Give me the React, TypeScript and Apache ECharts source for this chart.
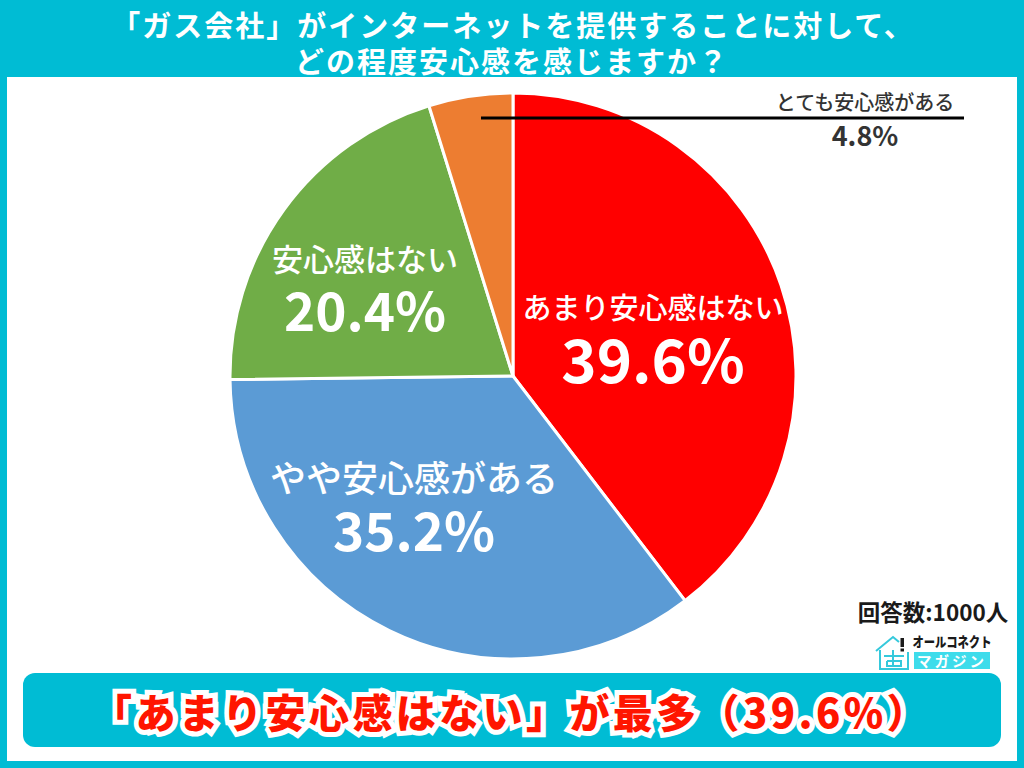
import React, { useEffect, useRef } from "react";
import * as echarts from "echarts";

const categories = ["あまり安心感はない", "やや安心感がある", "安心感はない", "とても安心感がある"];
const values = [39.6, 35.2, 20.4, 4.8];
const sliceColors = ["#FF0000", "#5B9BD5", "#70AD47", "#ED7D31"];
const titleLines = ["「ガス会社」がインターネットを提供することに対して、", "どの程度安心感を感じますか？"];
const sampleNote = "回答数:1000人";
const logoTop = "オールコネクト";
const logoBottom = "マガジン";
const banner = "「あまり安心感はない」が最多（39.6%）";

const TEAL = "#00BCD4";
const FONT = '"Noto Sans CJK JP", "Noto Sans", sans-serif';
const labelPos = [
  { x: 653, y: 336 },
  { x: 414, y: 502 },
  { x: 365, y: 284 },
  { x: 865, y: 118 },
];
const labelFont = [
  { n: 29, v: 60, c: "#fff", nh: 40, vh: 60 },
  { n: 36, v: 53, c: "#fff", nh: 51, vh: 53 },
  { n: 31, v: 53, c: "#fff", nh: 47, vh: 53 },
  { n: 20, v: 27, c: "#333", nh: 33, vh: 33 },
];

export default function App() {
  const ref = useRef<HTMLDivElement>(null);
  useEffect(() => {
    document.body.style.margin = "0";
    const chart = echarts.init(ref.current!, undefined, { renderer: "svg" });
    const iconLine = { stroke: "#35C9DC", lineWidth: 2, fill: "none" };
    chart.setOption({
      animation: false,
      backgroundColor: TEAL,
      graphic: [
        { type: "rect", z: 0, shape: { x: 7, y: 77, width: 1010, height: 684 }, style: { fill: "#FFFFFF" } },
        { type: "text", x: 513, y: 24, z: 10, style: { text: titleLines[0], fill: "#fff", font: `bold 29px ${FONT}`, lineHeight: 30, align: "center", verticalAlign: "middle" } },
        { type: "text", x: 512, y: 60, z: 10, style: { text: titleLines[1], fill: "#fff", font: `bold 29px ${FONT}`, lineHeight: 30, align: "center", verticalAlign: "middle" } },
        { type: "line", z: 20, shape: { x1: 481, y1: 118, x2: 964, y2: 118 }, style: { stroke: "#000", lineWidth: 3 } },
        { type: "text", x: 933, y: 611, z: 10, style: { text: sampleNote, fill: "#1a1a1a", font: `bold 22.5px ${FONT}`, align: "center", verticalAlign: "middle" } },
        // logo
        { type: "polyline", z: 10, shape: { points: [[876, 651], [893, 637], [899, 642]] }, style: iconLine },
        { type: "polyline", z: 10, shape: { points: [[880, 650], [880, 669], [908, 669], [908, 652]] }, style: iconLine },
        { type: "polyline", z: 10, shape: { points: [[887, 661], [887, 666], [901, 666], [901, 661], [887, 661]] }, style: iconLine },
        { type: "line", z: 10, shape: { x1: 884, y1: 656, x2: 904, y2: 656 }, style: iconLine },
        { type: "line", z: 10, shape: { x1: 893, y1: 650, x2: 893, y2: 666 }, style: iconLine },
        { type: "rect", z: 10, shape: { x: 900.5, y: 638, width: 3.5, height: 9 }, style: { fill: "#1a1a1a" } },
        { type: "rect", z: 10, shape: { x: 900.5, y: 648.5, width: 3.5, height: 3 }, style: { fill: "#1a1a1a" } },
        { type: "text", x: 952, y: 642, z: 10, scaleX: 0.84, style: { text: logoTop, fill: "#1a1a1a", font: `900 13.5px ${FONT}`, align: "center", verticalAlign: "middle" } },
        { type: "rect", z: 10, shape: { x: 914, y: 652, width: 76, height: 17 }, style: { fill: "#3EDCEB" } },
        { type: "text", x: 952, y: 660, z: 11, style: { text: logoBottom, fill: "#fff", font: `bold 14.5px ${FONT}`, align: "center", verticalAlign: "middle" } },
        // banner
        { type: "rect", z: 10, shape: { x: 23, y: 673, width: 978, height: 74, r: 12 }, style: { fill: TEAL } },
        { type: "text", x: 511, y: 711, z: 11, style: { text: banner, fill: "#FF1500", font: `900 40px ${FONT}`, align: "center", verticalAlign: "middle", stroke: "#fff", lineWidth: 10 } },
      ],
      series: [
        {
          type: "pie",
          center: [513, 376],
          radius: [0, 283],
          startAngle: 90,
          clockwise: true,
          z: 5,
          data: categories.map((name, i) => ({
            name,
            value: values[i],
            itemStyle: { color: sliceColors[i], borderColor: "#fff", borderWidth: 3 },
            label: {
              rich: {
                n: { fontFamily: FONT, fontWeight: 500, fontSize: labelFont[i].n, color: labelFont[i].c, lineHeight: labelFont[i].nh, align: "center" },
                v: { fontFamily: FONT, fontWeight: "bold", fontSize: labelFont[i].v, color: labelFont[i].c, lineHeight: labelFont[i].vh, align: "center" },
              },
            },
          })),
          label: {
            show: true,
            position: "inside",
            formatter: (p: any) => `{n|${p.name}}\n{v|${p.value}%}`,
          },
          labelLine: { show: false },
          labelLayout: (p: any) => ({ x: labelPos[p.dataIndex].x, y: labelPos[p.dataIndex].y, align: "center", verticalAlign: "middle" }),
          emphasis: { disabled: true },
        },
      ],
    });
    return () => chart.dispose();
  }, []);
  return (
    <>
      <style>{`text[style*="bold 29px"]{letter-spacing:2px} text[style*="900 40px"]{letter-spacing:3.4px} text[style*="14.5px"]{letter-spacing:3px}`}</style>
      <div ref={ref} style={{ position: "fixed", left: 0, top: 0, width: 1024, height: 768 }} />
    </>
  );
}
